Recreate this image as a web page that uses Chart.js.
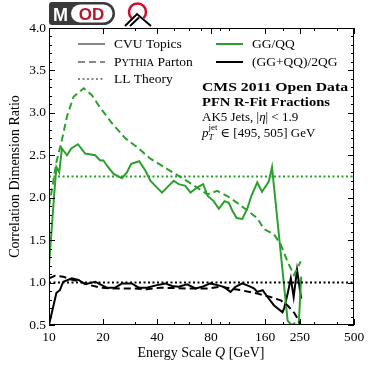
<!DOCTYPE html>
<html>
<head>
<meta charset="utf-8">
<script src="https://cdn.jsdelivr.net/npm/chart.js@4.4.0/dist/chart.umd.min.js"></script>
<style>
  html, body { margin: 0; padding: 0; background: #fff; }
</style>
</head>
<body>
<canvas id="myChart" width="374" height="371"></canvas>
<script>
// axis ticks
const xTickVals = [10, 20, 40, 80, 160, 250, 500];
const xMinorVals = [30, 50, 60, 70, 90, 100, 200, 300, 400];

// GG/QQ, CVU topics (solid green)
const qGgCvu = [10, 10.7, 11.0, 11.4, 11.8, 12.6, 13.3, 14.5, 15.9, 18.1, 19.3, 20.1, 21.0, 22.9, 25.5, 27.2, 28.7, 31.8, 34.4, 36.7, 39.1, 42.6, 46.4, 49.5, 52.8, 57.5, 61.4, 66.8, 72.2, 76.6, 82.7, 88.3, 95.0, 100.4, 104.9, 110.9, 119.4, 127.1, 134, 144.6, 153.6, 167.6, 174.7, 213.5, 224, 232.7, 240, 246, 254];
const rGgCvu = [1.20, 2.05, 2.36, 2.30, 2.58, 2.50, 2.58, 2.63, 2.52, 2.50, 2.44, 2.44, 2.38, 2.28, 2.23, 2.30, 2.40, 2.43, 2.32, 2.20, 2.14, 2.06, 2.14, 2.20, 2.16, 2.14, 2.06, 2.12, 2.16, 2.02, 1.96, 1.87, 1.96, 1.94, 1.85, 1.76, 1.75, 1.87, 2.02, 2.18, 2.07, 2.19, 2.36, 0.55, 0.50, 0.52, 0.47, 0.50, 1.07];

// GG/QQ, Pythia parton (dashed green)
const qGgPyth = [10, 10.3, 11.0, 11.8, 12.6, 13.7, 15.6, 17.3, 19.3, 22.4, 26.6, 31.6, 36.7, 45.4, 56.3, 66.8, 76.2, 86.6, 98.4, 111.8, 127.1, 144.6, 157.5, 179, 195.3, 212.8, 231.6, 252.5];
const rGgPyth = [1.90, 2.05, 2.42, 2.68, 2.96, 3.19, 3.29, 3.21, 3.06, 2.88, 2.70, 2.58, 2.46, 2.34, 2.22, 2.12, 2.04, 2.08, 2.02, 1.94, 1.85, 1.76, 1.63, 1.57, 1.45, 1.25, 1.09, 1.25];

// (GG+QQ)/2QG, CVU topics (solid black)
const qMixCvu = [10, 11.0, 11.5, 12.0, 13.4, 14.6, 15.9, 18.1, 19.3, 21.0, 23.4, 25.5, 28.9, 31.6, 35.1, 40.0, 44.5, 48.4, 52.7, 58.8, 65.5, 71.3, 79.2, 86.6, 94.0, 102.6, 109.3, 119.4, 133, 139, 144.6, 155, 164.8, 179.5, 199.9, 204.3, 213.5, 222.3, 230.6, 240.8, 254];
const rMixCvu = [0.50, 0.88, 0.91, 1.01, 1.05, 1.03, 0.98, 1.01, 0.98, 0.94, 0.94, 0.99, 0.99, 0.94, 0.94, 0.97, 0.99, 0.96, 0.95, 0.98, 0.93, 0.95, 0.99, 0.97, 0.95, 0.89, 0.95, 0.99, 0.95, 0.93, 0.89, 0.91, 0.83, 0.73, 0.65, 0.70, 0.87, 1.05, 0.83, 1.15, 0.81];

// (GG+QQ)/2QG, Pythia parton (dashed black)
const qMixPyth = [10, 10.8, 12.0, 13.1, 14.9, 16.9, 19.3, 22.9, 29.5, 35.1, 41.7, 58.8, 76.3, 90.6, 117.1, 145.2, 171.5, 195.5, 213.5, 232.7, 248.6, 252];
const rMixPyth = [1.05, 1.08, 1.07, 1.04, 1.01, 0.97, 0.94, 0.93, 0.93, 0.92, 0.94, 0.93, 0.93, 0.95, 0.91, 0.87, 0.83, 0.79, 0.73, 0.64, 0.54, 0.48];

// LL theory (dotted)
const qTheory = [10, 500];
const rTheoryGg = [2.25, 2.25];
const rTheoryMix = [1.0, 1.0];

const green = "#2ca02c";
const serif = "'Liberation Serif', 'DejaVu Serif', serif";

function pts(q, r) {
  return q.map((v, i) => ({ x: v, y: r[i] }));
}

function line(q, r, color, dash) {
  return {
    data: pts(q, r),
    borderColor: color,
    borderWidth: 2,
    borderDash: dash,
    pointRadius: 0,
    tension: 0,
    fill: false,
  };
}

function runs(ctx, x, y, parts) {
  for (const p of parts) {
    ctx.font = p.f;
    ctx.fillText(p.t, x, y + (p.dy || 0));
    x += ctx.measureText(p.t).width;
  }
  return x;
}

function fitText(ctx, text, x, y, w) {
  const m = ctx.measureText(text).width;
  ctx.save();
  ctx.translate(x, y);
  ctx.scale(w / m, 1);
  ctx.fillText(text, 0, 0);
  ctx.restore();
}

const decor = {
  id: "decor",
  afterDraw(chart) {
    const ctx = chart.ctx;
    const a = chart.chartArea;
    const xs = chart.scales.x;
    const ys = chart.scales.y;
    ctx.save();

    // frame
    ctx.strokeStyle = "#000";
    ctx.lineWidth = 1;
    ctx.strokeRect(a.left + 0.5, a.top + 0.5, a.right - a.left - 1, a.bottom - a.top - 1);

    // inward ticks
    ctx.beginPath();
    for (let v = 0.5; v <= 4.001; v += 0.1) {
      const y = Math.round(ys.getPixelForValue(v)) + 0.5;
      const major = Math.abs(v * 2 - Math.round(v * 2)) < 1e-6;
      const len = major ? 6 : 3;
      ctx.moveTo(a.left, y); ctx.lineTo(a.left + len, y);
      ctx.moveTo(a.right, y); ctx.lineTo(a.right - len, y);
    }
    xTickVals.concat(xMinorVals).forEach((v) => {
      const x = Math.round(xs.getPixelForValue(v)) + 0.5;
      const len = xTickVals.includes(v) ? 6 : 3;
      ctx.moveTo(x, a.bottom); ctx.lineTo(x, a.bottom - len);
      ctx.moveTo(x, a.top); ctx.lineTo(x, a.top + len);
    });
    ctx.stroke();

    ctx.fillStyle = "#000";
    ctx.textBaseline = "alphabetic";
    ctx.textAlign = "left";

    // axis titles
    ctx.font = "14px " + serif;
    let w = ctx.measureText("Energy Scale ").width;
    ctx.font = "italic 14px " + serif;
    w += ctx.measureText("Q").width;
    ctx.font = "14px " + serif;
    w += ctx.measureText(" [GeV]").width;
    runs(ctx, 201 - w / 2, 357, [
      { t: "Energy Scale ", f: "14px " + serif },
      { t: "Q", f: "italic 14px " + serif },
      { t: " [GeV]", f: "14px " + serif },
    ]);
    ctx.save();
    ctx.translate(19, (a.top + a.bottom) / 2);
    ctx.rotate(-Math.PI / 2);
    ctx.textAlign = "center";
    ctx.font = "14px " + serif;
    ctx.fillText("Correlation Dimension Ratio", 0, 0);
    ctx.restore();

    // legend
    const f = "13.5px " + serif;
    const samples = [
      { y: 44, c: "#888", d: [], t: [{ t: "CVU Topics", f }] },
      { y: 62, c: "#888", d: [7, 4], t: [{ t: "P", f }, { t: "YTHIA", f: "10.5px " + serif }, { t: " Parton", f }] },
      { y: 79, c: "#888", d: [2, 2.5], t: [{ t: "LL Theory", f }] },
    ];
    samples.forEach((s) => {
      ctx.beginPath();
      ctx.strokeStyle = s.c;
      ctx.lineWidth = 2;
      ctx.setLineDash(s.d);
      ctx.moveTo(78, s.y); ctx.lineTo(105, s.y);
      ctx.stroke();
      runs(ctx, 114, s.y + 4, s.t);
    });
    [{ y: 44, c: green, t: "GG/QQ" }, { y: 62, c: "#000", t: "(GG+QQ)/2QG" }].forEach((s) => {
      ctx.beginPath();
      ctx.strokeStyle = s.c;
      ctx.lineWidth = 2;
      ctx.setLineDash([]);
      ctx.moveTo(216, s.y); ctx.lineTo(243, s.y);
      ctx.stroke();
      ctx.font = f;
      ctx.fillText(s.t, 252, s.y + 4);
    });

    // annotation
    ctx.font = "bold 13px " + serif;
    fitText(ctx, "CMS 2011 Open Data", 202, 91, 146);
    fitText(ctx, "PFN R-Fit Fractions", 202, 106, 128);
    const g = "13px " + serif;
    const gi = "italic 13px " + serif;
    runs(ctx, 202, 121, [
      { t: "AK5 Jets, |", f: g },
      { t: "η", f: gi },
      { t: "| < 1.9", f: g },
    ]);
    let px = runs(ctx, 202, 137, [{ t: "p", f: gi }]);
    ctx.font = "italic 9px " + serif;
    ctx.fillText("T", px, 140);
    ctx.font = "9px " + serif;
    ctx.fillText("jet", px, 130);
    runs(ctx, px + 12, 137, [{ t: "∈ [495, 505] GeV", f: g }]);

    // logo
    ctx.fillStyle = "#3a3a3a";
    ctx.beginPath();
    ctx.roundRect(49, 2, 66, 23, [3, 11.5, 11.5, 3]);
    ctx.fill();
    ctx.fillStyle = "#fff";
    ctx.beginPath();
    ctx.roundRect(71, 4.5, 41.5, 18, 9);
    ctx.fill();
    ctx.font = "bold 18px 'Liberation Sans', Arial, sans-serif";
    ctx.fillText("M", 53, 21);
    ctx.fillStyle = "#b3192f";
    ctx.font = "bold 17px 'Liberation Sans', Arial, sans-serif";
    ctx.textAlign = "center";
    ctx.fillText("OD", 91.5, 20);
    ctx.textAlign = "left";
    ctx.strokeStyle = "#c8102e";
    ctx.lineWidth = 2.5;
    ctx.beginPath();
    ctx.arc(137.5, 12, 8.5, 0.75 * Math.PI, 0.25 * Math.PI);
    ctx.stroke();
    ctx.strokeStyle = "#000";
    ctx.lineWidth = 2;
    ctx.beginPath();
    ctx.moveTo(125, 26); ctx.lineTo(137, 14); ctx.lineTo(151, 26);
    ctx.moveTo(130, 26); ctx.lineTo(139, 17.5);
    ctx.stroke();

    ctx.restore();
  },
};

const datasets = [
  line(qTheory, rTheoryGg, green, [2, 2.5]),
  line(qTheory, rTheoryMix, "#000", [2, 2.5]),
  line(qGgPyth, rGgPyth, green, [7, 4]),
  line(qMixPyth, rMixPyth, "#000", [7, 4]),
  line(qGgCvu, rGgCvu, green, []),
  line(qMixCvu, rMixCvu, "#000", []),
];

const config = {
  type: "line",
  data: { datasets },
  options: {
    responsive: false,
    devicePixelRatio: 1,
    animation: false,
    layout: { padding: { top: 28, right: 20, left: 0, bottom: 0 } },
    plugins: { legend: { display: false }, tooltip: { enabled: false } },
    scales: {
      x: {
        type: "logarithmic",
        min: 10,
        max: 500,
        afterBuildTicks: (s) => {
          s.ticks = xTickVals.map((v) => ({ value: v }));
        },
        afterFit: (s) => { s.height = 46; },
        grid: { display: false, drawTicks: false },
        border: { display: false },
        ticks: {
          autoSkip: false,
          maxRotation: 0,
          padding: 4,
          color: "#000",
          font: { family: serif, size: 13.5 },
          callback: (v) => String(v),
        },
      },
      y: {
        min: 0.5,
        max: 4.0,
        afterFit: (s) => { s.width = 49; },
        grid: { display: false, drawTicks: false },
        border: { display: false },
        ticks: {
          stepSize: 0.5,
          padding: 3,
          color: "#000",
          font: { family: serif, size: 13.5 },
          callback: (v) => v.toFixed(1),
        },
      },
    },
  },
  plugins: [decor],
};

var myChart = new Chart(document.getElementById("myChart"), config);
</script>
</body>
</html>
